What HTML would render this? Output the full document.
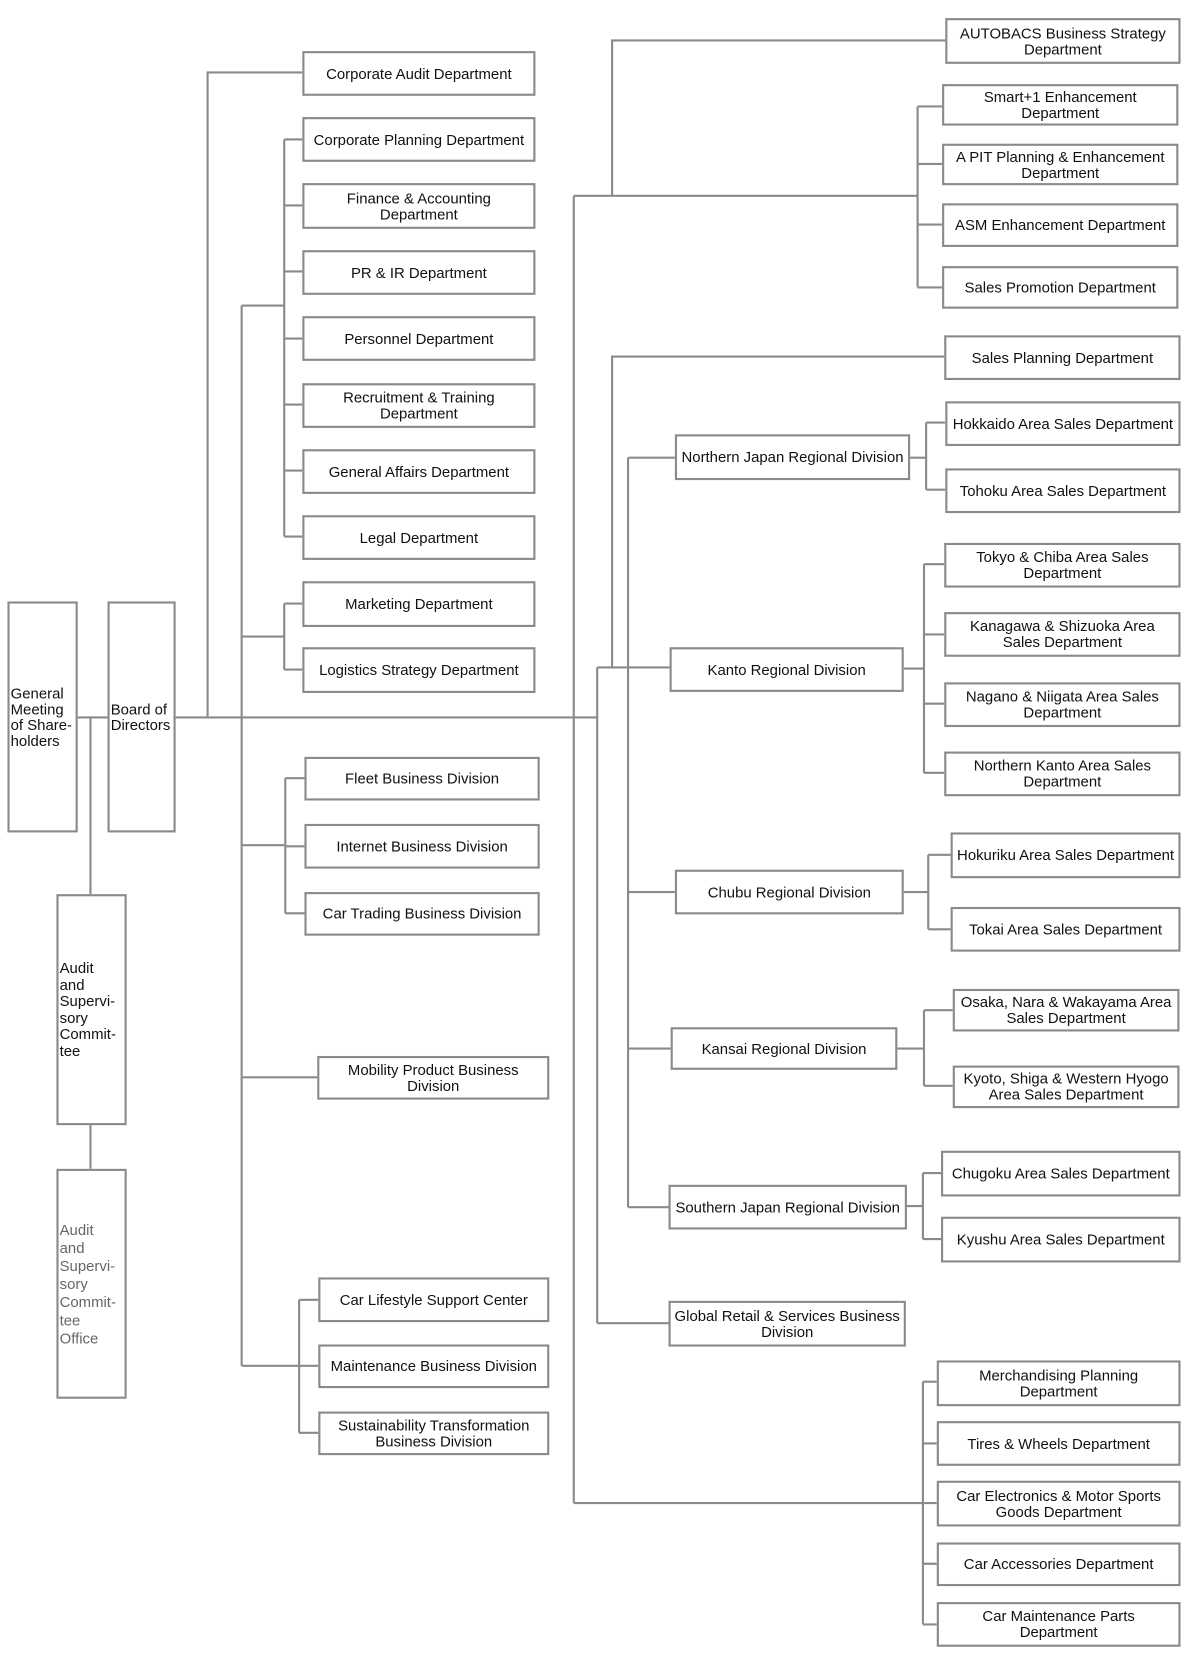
<!DOCTYPE html>
<html><head><meta charset="utf-8"><style>
html,body{margin:0;padding:0;background:#fff;}
body{width:1189px;height:1678px;overflow:hidden;position:relative;}
#c{position:absolute;left:0;top:0;width:1117px;height:1577px;transform:scale(1.0645);transform-origin:0 0;}
.b{position:absolute;box-sizing:border-box;border:2px solid #8a8a8a;background:#fff;display:flex;align-items:center;justify-content:center;text-align:center;font-family:"Liberation Sans",Arial,sans-serif;font-size:14px;line-height:15px;color:#111;}
.l{justify-content:flex-start;text-align:left;padding-left:1px;}
svg{position:absolute;left:0;top:0;}
</style></head><body><div id="c">
<svg width="1117" height="1577" fill="none" stroke="#8a8a8a" stroke-width="2">
<path d="M72 674H101M85 674V840M85 1056V1098"/>
<path d="M164 674H561M195 674V68H284M227 287V1283"/>
<path d="M227 287H267M227 598H267M227 794H267M227 1012H298M227 1283H281"/>
<path d="M267 131V504M267 131H284M267 193H284M267 255H284M267 318H284M267 380H284M267 442H284M267 504H284"/>
<path d="M267 567V629M267 567H284M267 629H284"/>
<path d="M268 731V858M268 731H286M268 795H286M268 858H286"/>
<path d="M281 1221V1346M281 1221H299M281 1283H299M281 1346H299"/>
<path d="M539 184V1412M539 184H862M575 184V38H888M862 100V270M862 100H885M862 154H885M862 211H885M862 270H885"/>
<path d="M539 1412H868M867 1298V1526M867 1298H880M867 1356H880M867 1412H880M867 1469H880M867 1526H880"/>
<path d="M561 627V1243M561 627H629M575 627V335H888M590 430V1134"/>
<path d="M590 430H634M590 838H634M590 985H630M590 1134H628M561 1243H628"/>
<path d="M854 430H870M870 397V460M870 397H888M870 460H888"/>
<path d="M848 628H868M868 530V726M868 530H887M868 596H887M868 661H887M868 726H887"/>
<path d="M848 838H872M872 803V873M872 803H893M872 873H893"/>
<path d="M842 985H868M868 949V1020M868 949H895M868 1020H895"/>
<path d="M851 1133H867M867 1102V1164M867 1102H884M867 1164H884"/>
</svg>
<div class="b l" style="left:7px;top:565px;width:66px;height:217px">General<br>Meeting<br>of Share-<br>holders</div>
<div class="b l" style="left:101px;top:565px;width:64px;height:217px">Board of<br>Directors</div>
<div class="b l" style="left:53px;top:840px;width:66px;height:217px;line-height:15.5px">Audit<br>and<br>Supervi-<br>sory<br>Commit-<br>tee</div>
<div class="b l" style="left:53px;top:1098px;width:66px;height:216px;color:#666;line-height:17px">Audit<br>and<br>Supervi-<br>sory<br>Commit-<br>tee<br>Office</div>

<div class="b" style="left:284px;top:48px;width:219px;height:42px">Corporate Audit Department</div>
<div class="b" style="left:284px;top:110px;width:219px;height:42px">Corporate Planning Department</div>
<div class="b" style="left:284px;top:172px;width:219px;height:43px">Finance &amp; Accounting<br>Department</div>
<div class="b" style="left:284px;top:235px;width:219px;height:42px">PR &amp; IR Department</div>
<div class="b" style="left:284px;top:297px;width:219px;height:42px">Personnel Department</div>
<div class="b" style="left:284px;top:360px;width:219px;height:42px">Recruitment &amp; Training<br>Department</div>
<div class="b" style="left:284px;top:422px;width:219px;height:42px">General Affairs Department</div>
<div class="b" style="left:284px;top:484px;width:219px;height:42px">Legal Department</div>
<div class="b" style="left:284px;top:546px;width:219px;height:43px">Marketing Department</div>
<div class="b" style="left:284px;top:608px;width:219px;height:43px">Logistics Strategy Department</div>
<div class="b" style="left:286px;top:711px;width:221px;height:41px">Fleet Business Division</div>
<div class="b" style="left:286px;top:774px;width:221px;height:42px">Internet Business Division</div>
<div class="b" style="left:286px;top:838px;width:221px;height:41px">Car Trading Business Division</div>
<div class="b" style="left:298px;top:992px;width:218px;height:41px">Mobility Product Business<br>Division</div>
<div class="b" style="left:299px;top:1200px;width:217px;height:42px">Car Lifestyle Support Center</div>
<div class="b" style="left:299px;top:1263px;width:217px;height:41px">Maintenance Business Division</div>
<div class="b" style="left:299px;top:1326px;width:217px;height:41px">Sustainability Transformation<br>Business Division</div>

<div class="b" style="left:888px;top:17px;width:221px;height:43px">AUTOBACS Business Strategy<br>Department</div>
<div class="b" style="left:885px;top:79px;width:222px;height:39px">Smart+1 Enhancement<br>Department</div>
<div class="b" style="left:885px;top:135px;width:222px;height:39px">A PIT Planning &amp; Enhancement<br>Department</div>
<div class="b" style="left:885px;top:191px;width:222px;height:41px">ASM Enhancement Department</div>
<div class="b" style="left:885px;top:250px;width:222px;height:40px">Sales Promotion Department</div>
<div class="b" style="left:887px;top:315px;width:222px;height:42px">Sales Planning Department</div>

<div class="b" style="left:634px;top:408px;width:221px;height:43px">Northern Japan Regional Division</div>
<div class="b" style="left:888px;top:377px;width:221px;height:42px">Hokkaido Area Sales Department</div>
<div class="b" style="left:888px;top:440px;width:221px;height:42px">Tohoku Area Sales Department</div>
<div class="b" style="left:629px;top:608px;width:220px;height:42px">Kanto Regional Division</div>
<div class="b" style="left:887px;top:510px;width:222px;height:42px">Tokyo &amp; Chiba Area Sales<br>Department</div>
<div class="b" style="left:887px;top:575px;width:222px;height:42px">Kanagawa &amp; Shizuoka Area<br>Sales Department</div>
<div class="b" style="left:887px;top:641px;width:222px;height:42px">Nagano &amp; Niigata Area Sales<br>Department</div>
<div class="b" style="left:887px;top:706px;width:222px;height:42px">Northern Kanto Area Sales<br>Department</div>
<div class="b" style="left:634px;top:817px;width:215px;height:42px">Chubu Regional Division</div>
<div class="b" style="left:893px;top:782px;width:216px;height:43px">Hokuriku Area Sales Department</div>
<div class="b" style="left:893px;top:852px;width:216px;height:42px">Tokai Area Sales Department</div>
<div class="b" style="left:630px;top:965px;width:213px;height:40px">Kansai Regional Division</div>
<div class="b" style="left:895px;top:929px;width:213px;height:40px">Osaka, Nara &amp; Wakayama Area<br>Sales Department</div>
<div class="b" style="left:895px;top:1001px;width:213px;height:40px">Kyoto, Shiga &amp; Western Hyogo<br>Area Sales Department</div>
<div class="b" style="left:628px;top:1113px;width:224px;height:42px">Southern Japan Regional Division</div>
<div class="b" style="left:884px;top:1081px;width:225px;height:43px">Chugoku Area Sales Department</div>
<div class="b" style="left:884px;top:1143px;width:225px;height:43px">Kyushu Area Sales Department</div>
<div class="b" style="left:628px;top:1222px;width:223px;height:43px">Global Retail &amp; Services Business<br>Division</div>

<div class="b" style="left:880px;top:1278px;width:229px;height:43px">Merchandising Planning<br>Department</div>
<div class="b" style="left:880px;top:1335px;width:229px;height:42px">Tires &amp; Wheels Department</div>
<div class="b" style="left:880px;top:1391px;width:229px;height:43px">Car Electronics &amp; Motor Sports<br>Goods Department</div>
<div class="b" style="left:880px;top:1449px;width:229px;height:41px">Car Accessories Department</div>
<div class="b" style="left:880px;top:1505px;width:229px;height:42px">Car Maintenance Parts<br>Department</div>
</div></body></html>
